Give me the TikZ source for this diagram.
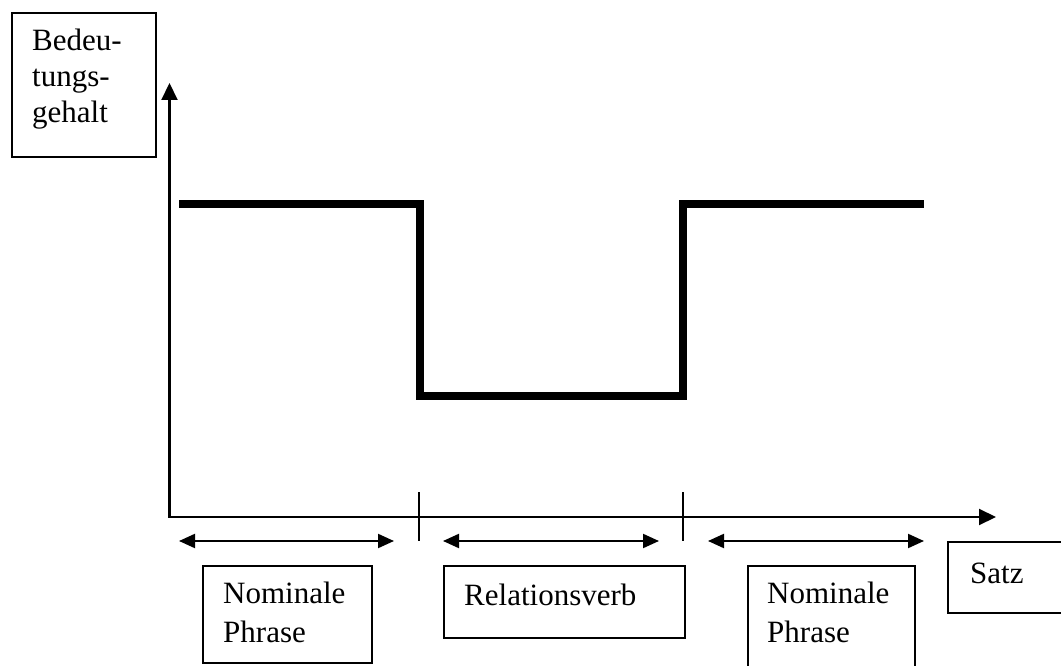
\documentclass[tikz,border=0pt]{standalone}
\usepackage{fontspec}
\setmainfont{Liberation Serif}
\usetikzlibrary{arrows.meta}

\tikzset{
  thin line/.style={line width=2.1pt, draw=black},
  boxframe/.style={draw=black, line width=2.1pt, fill=none},
  label text/.style={anchor=base west, inner sep=0pt, font=\fontsize{31}{37}\selectfont},
  meaning curve/.style={line width=8pt, line join=miter, line cap=butt},
  axis tip/.tip={Triangle[length=17pt, width=16pt]},
  span tip/.tip={Triangle[length=16pt, width=14pt]},
}

\begin{document}
\begin{tikzpicture}[x=1pt, y=-1pt]
  \useasboundingbox (0,0) rectangle (1061,666);
  \clip (0,0) rectangle (1061,666);

  % axes
  \coordinate (origin) at (169.5,517);
  \coordinate (ytip) at (169.5,83);
  \coordinate (xtip) at (996,517);
  \draw[thin line, axis tip-axis tip] (ytip) -- (origin) -- (xtip);

  % boundaries between the parts of the sentence
  \coordinate (tick1a) at (419,492);
  \coordinate (tick1b) at (419,541);
  \coordinate (tick2a) at (683,492);
  \coordinate (tick2b) at (683,541);
  \draw[thin line] (tick1a) -- (tick1b);
  \draw[thin line] (tick2a) -- (tick2b);

  % extent of each part
  \coordinate (span1l) at (179,541);
  \coordinate (span1r) at (394,541);
  \coordinate (span2l) at (443,541);
  \coordinate (span2r) at (659,541);
  \coordinate (span3l) at (708,541);
  \coordinate (span3r) at (924,541);
  \draw[thin line, span tip-span tip] (span1l) -- (span1r);
  \draw[thin line, span tip-span tip] (span2l) -- (span2r);
  \draw[thin line, span tip-span tip] (span3l) -- (span3r);

  % meaning content along the sentence
  \coordinate (c1) at (179,204);
  \coordinate (c2) at (419.5,204);
  \coordinate (c3) at (419.5,396);
  \coordinate (c4) at (683,396);
  \coordinate (c5) at (683,204);
  \coordinate (c6) at (924,204);
  \draw[meaning curve] (c1) -- (c2) -- (c3) -- (c4) -- (c5) -- (c6);

  % y-axis label
  \node[boxframe, minimum width=144pt, minimum height=144pt, anchor=north west, inner sep=0pt] (ybox) at (11,12) {};
  \node[label text] (ya) at (32,51) {Bedeu-};
  \node[label text] (yb) at (32,87) {tungs-};
  \node[label text] (yc) at (32,123) {gehalt};

  % part labels
  \node[boxframe, minimum width=169pt, minimum height=97pt, anchor=north west, inner sep=0pt] (np1box) at (202,565) {};
  \node[label text] (np1a) at (223,603) {Nominale};
  \node[label text] (np1b) at (223,642) {Phrase};

  \node[boxframe, minimum width=241pt, minimum height=72pt, anchor=north west, inner sep=0pt] (rvbox) at (443,565) {};
  \node[label text] (rv) at (464,605) {Relationsverb};

  \node[boxframe, minimum width=167pt, minimum height=120pt, anchor=north west, inner sep=0pt] (np2box) at (747,565) {};
  \node[label text] (np2a) at (767,603) {Nominale};
  \node[label text] (np2b) at (767,642) {Phrase};

  % x-axis label
  \node[boxframe, minimum width=130pt, minimum height=71pt, anchor=north west, inner sep=0pt] (xbox) at (947,541) {};
  \node[label text] (xl) at (970,583) {Satz};
\end{tikzpicture}
\end{document}
